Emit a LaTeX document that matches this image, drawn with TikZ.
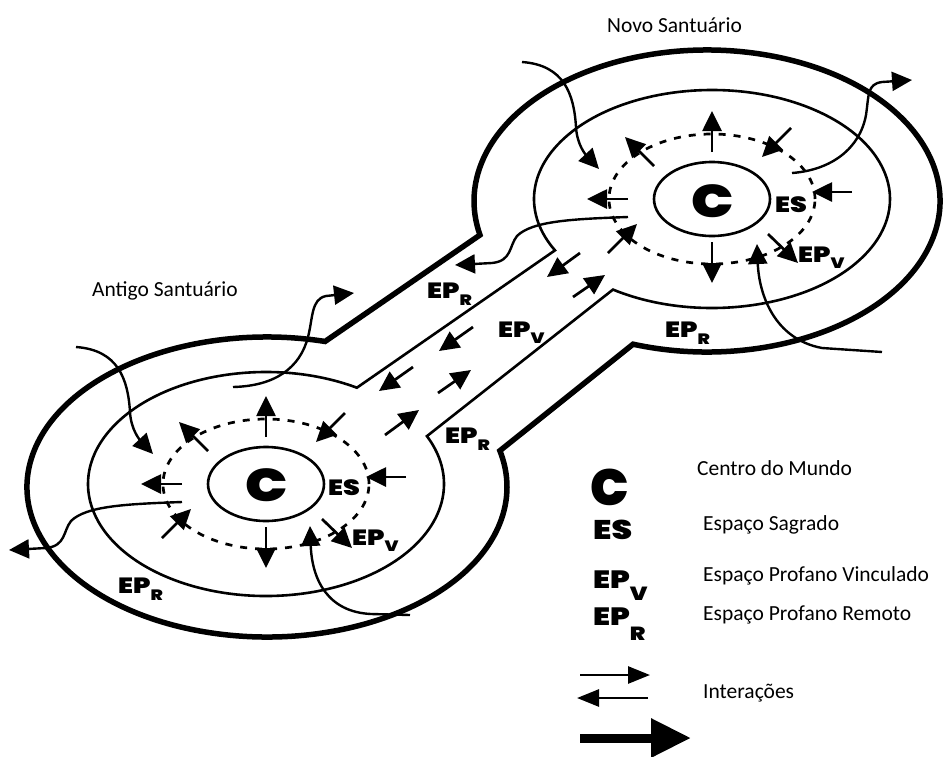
\documentclass[tikz,border=0pt]{standalone}
\usepackage{fontspec}
\usetikzlibrary{arrows.meta,calc}
\newfontfamily\carl{Carlito}
\IfFontExistsTF{Poppins Black}
  {\newfontfamily\hvfam{Poppins Black}[FakeStretch=1.22]
   \newfontfamily\hvround{Poppins Black}}
  {\newfontfamily\hvfam{DejaVu Sans Bold}[FakeStretch=1.12]
   \newfontfamily\hvround{DejaVu Sans Bold}}
\newcommand\hvsize[1]{\fontsize{#1pt}{#1pt}\selectfont}
% label with a lowered subscript letter: size, sub size, drop, letter
\newcommand\EPsub[4]{\hvsize{#1}EP\raisebox{-#3pt}{\hvsize{#2}#4}}

\begin{document}
\begin{tikzpicture}[x=1pt,y=-1pt,
  wall/.style={line width=5.5pt},
  ring/.style={line width=2.6pt},
  sacred/.style={line width=2.7pt,dash pattern=on 7pt off 8pt},
  flow/.style={line width=2.7pt,-{Triangle[length=20pt,width=19pt]}},
  route/.style={line width=2.4pt,-{Triangle[length=20pt,width=19pt]}},
  keyflow/.style={line width=2.7pt,-{Triangle[length=22pt,width=17pt]}},
  bigflow/.style={line width=9pt,-{Triangle[length=40pt,width=37pt]}},
  hv/.style={font=\hvfam,inner sep=0pt},
  caption/.style={font=\carl\fontsize{21.5pt}{21.5pt}\selectfont,inner sep=0pt,anchor=base west}]

\useasboundingbox (0,0) rectangle (946,756);

% centres of the two sanctuaries
\coordinate (Ao) at (267,487);
\coordinate (No) at (707,201);
\coordinate (Ai) at (266,484);
\coordinate (Ni) at (712,199);

% remote profane space: thick outer wall joined by the corridor
\draw[wall] ($(Ao)+(76:240pt and 150pt)$)
  arc[start angle=76,end angle=374,x radius=240pt,y radius=150pt]
  -- ($(No)+(251.5:233pt and 151pt)$)
  arc[start angle=251.5,end angle=553,x radius=233pt,y radius=151pt]
  -- cycle;

% linked profane space: inner ring joined by the corridor
\draw[ring] ($(Ai)+(59.3:178pt and 112pt)$)
  arc[start angle=59.3,end angle=385.3,x radius=178pt,y radius=112pt]
  -- ($(Ni)+(236.2:178pt and 109pt)$)
  arc[start angle=236.2,end angle=568.1,x radius=178pt,y radius=109pt]
  -- cycle;

% sacred space and centre of the world, same in both sanctuaries
\foreach \c in {Ai,Ni}{
  \draw[sacred] (\c) ellipse[x radius=103pt,y radius=65pt];
  \draw[ring] (\c) ellipse[x radius=58pt,y radius=37pt];
  \begin{scope}[shift={(\c)}]
    \draw[flow] (0,-47) -- (0,-88);
    \draw[flow] (0,43) -- (0,84);
    \draw[flow] (-58,-33) -- (-87,-62);
    \draw[flow] (-84,0) -- (-125,0);
    \draw[flow] (-104,54) -- (-75,25);
    \draw[flow] (79,-71) -- (50,-42);
    \draw[flow] (140,-7) -- (100,-7);
    \draw[flow] (56,35) -- (86,64);
    % leaving towards the outside
    \draw[route] (-84,18) .. controls (-140,20) and (-180,22) .. (-195,37)
      .. controls (-203,47) and (-200,62) .. (-220,64) -- (-257,66);
    % coming in from the upper left
    \draw[route] (-190,-137) .. controls (-148,-134) and (-138,-105) .. (-136,-72)
      .. controls (-135,-54) and (-126,-44) .. (-113,-30);
  \end{scope}
}

% coming in from below
\draw[route] (410,615) -- (371,614) .. controls (328,612) and (312,580) .. (310,526);
\draw[route] (882,352) -- (822,348) .. controls (774,339) and (759,294) .. (757,244);

% leaving over the outer wall
\draw[route] (233,387) .. controls (275,386) and (300,368) .. (308,337)
  .. controls (313,318) and (311,299) .. (326,296) -- (354,293);
\draw[route] (792,173) .. controls (832,170) and (860,148) .. (866,115)
  .. controls (869,95) and (867,84) .. (882,82) -- (912,80);

% exchanges along the corridor
\draw[flow] (580,253) -- (547,277);
\draw[flow] (573,297) -- (605,275);
\draw[flow] (473,327) -- (439,351);
\draw[flow] (413,367) -- (379,391);
\draw[flow] (438,393) -- (471,370);
\draw[flow] (385,435) -- (419,410);

% region labels
\node[hv] (cA) at (267,485) {\hvsize{46}C};
\node[hv] (cN) at (713,201) {\hvsize{46}C};
\node[hv,anchor=base west] (esA) at (328,495) {\hvsize{22}ES};
\node[hv,anchor=base west] (esN) at (775,212) {\hvsize{22}ES};
\node[hv,anchor=base west] (epvA) at (352,545) {\EPsub{22}{15}{6}{V}};
\node[hv,anchor=base west] (epvN) at (798,262) {\EPsub{22}{15}{6}{V}};
\node[hv,anchor=base west] (epvC) at (498,337) {\EPsub{22}{15}{6}{V}};
\node[hv,anchor=base west] (eprA) at (118,593) {\EPsub{22}{15}{7}{R}};
\node[hv,anchor=base west] (eprN) at (665,337) {\EPsub{22}{15}{7}{R}};
\node[hv,anchor=base west] (eprU) at (427,298) {\EPsub{22}{15}{7}{R}};
\node[hv,anchor=base west] (eprL) at (445,443) {\EPsub{22}{15}{7}{R}};

% titles
\node[caption] (titleN) at (607,32) {Novo Santuário};
\node[caption] (titleA) at (92,296) {Antigo Santuário};

% key
\node[hv,font=\hvround] (keyC) at (610,487) {\hvsize{51}C};
\node[hv,anchor=base west] (keyES) at (593,539) {\hvsize{27}ES};
\node[hv,anchor=base west] (keyEPV) at (593,588) {\EPsub{25}{19}{12}{V}};
\node[hv,anchor=base west] (keyEPR) at (593,625) {\EPsub{25}{19}{15}{R}};
\node[caption] (txtC) at (697,475) {Centro do Mundo};
\node[caption] (txtES) at (703,530) {Espaço Sagrado};
\node[caption] (txtEPV) at (703,581) {Espaço Profano Vinculado};
\node[caption] (txtEPR) at (703,620) {Espaço Profano Remoto};
\node[caption] (txtI) at (703,698) {Interações};
\coordinate (k1a) at (580,675);
\coordinate (k1b) at (650,675);
\coordinate (k2a) at (648,698);
\coordinate (k2b) at (577,698);
\coordinate (k3a) at (580,738);
\coordinate (k3b) at (691,738);
\draw[keyflow] (k1a) -- (k1b);
\draw[keyflow] (k2a) -- (k2b);
\draw[bigflow] (k3a) -- (k3b);
\end{tikzpicture}
\end{document}
